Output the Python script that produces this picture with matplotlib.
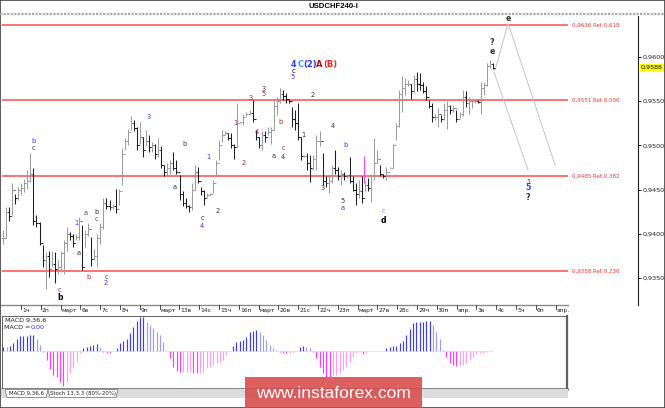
import numpy as np
import matplotlib
matplotlib.use("Agg")
import matplotlib.pyplot as plt
from matplotlib.patches import Rectangle, Polygon
from matplotlib.transforms import blended_transform_factory

# H4 bars, values in pips above 0.9300
BASE = 0.9300
high_pips = [104, 130, 130, 157, 145, 153, 157, 162, 172, 191,
             174, 121, 113, 87, 79, 81, 81, 79, 70, 81,
             93, 108, 102, 100, 100, 119, 110, 104, 112, 96,
             83, 100, 112, 140, 140, 138, 134, 151, 151, 197,
             208, 219, 233, 229, 221, 227, 210, 217, 212, 204,
             202, 208, 199, 178, 180, 184, 193, 184, 167, 148,
             140, 133, 157, 178, 176, 153, 150, 146, 146, 161,
             184, 206, 217, 216, 214, 214, 202, 248, 227, 236,
             238, 240, 251, 217, 210, 216, 216, 221, 221, 251,
             255, 265, 263, 259, 253, 244, 240, 248, 210, 189,
             191, 189, 189, 212, 216, 191, 165, 165, 178, 195,
             176, 172, 170, 168, 187, 165, 157, 161, 165, 159,
             163, 168, 208, 195, 178, 168, 176, 176, 202, 225,
             263, 278, 276, 274, 270, 280, 283, 282, 272, 267,
             251, 248, 236, 242, 234, 248, 250, 246, 246, 240,
             238, 263, 261, 255, 253, 253, 251, 272, 272, 293,
             297, 293]
low_pips = [89, 95, 115, 121, 134, 138, 144, 147, 151, 159,
            110, 108, 87, 63, 38, 51, 63, 44, 55, 57,
            55, 81, 93, 85, 93, 93, 59, 85, 98, 64,
            70, 63, 89, 106, 128, 127, 128, 123, 133, 155,
            195, 200, 217, 216, 195, 202, 187, 199, 193, 193,
            185, 187, 174, 165, 167, 168, 172, 168, 138, 131,
            129, 125, 127, 150, 157, 144, 133, 142, 144, 146,
            165, 184, 204, 212, 206, 197, 185, 198, 225, 223,
            233, 234, 227, 206, 197, 195, 204, 212, 202, 217,
            234, 248, 251, 248, 248, 221, 217, 206, 183, 187,
            172, 159, 172, 172, 199, 155, 153, 146, 157, 168,
            161, 155, 161, 163, 157, 148, 133, 140, 135, 148,
            148, 136, 161, 180, 165, 163, 161, 174, 174, 206,
            221, 238, 257, 267, 253, 259, 261, 263, 259, 251,
            242, 227, 229, 221, 227, 229, 219, 236, 238, 227,
            231, 233, 244, 236, 242, 248, 248, 236, 257, 267,
            287, 286]
close_pips = [95, 125, 120, 150, 140, 150, 152, 158, 160, 168,
              115, 112, 90, 70, 75, 60, 66, 60, 62, 78,
              90, 100, 97, 90, 96, 115, 62, 100, 105, 72,
              75, 95, 108, 135, 132, 130, 131, 128, 148, 190,
              205, 215, 225, 220, 200, 210, 195, 205, 198, 200,
              190, 195, 178, 170, 175, 180, 175, 170, 145, 135,
              132, 130, 150, 170, 160, 148, 140, 144, 145, 158,
              180, 200, 212, 214, 208, 200, 198, 225, 226, 232,
              235, 237, 230, 210, 200, 212, 210, 215, 218, 245,
              250, 258, 256, 252, 250, 230, 225, 210, 188, 188,
              180, 175, 185, 205, 205, 160, 158, 160, 175, 172,
              165, 168, 165, 166, 160, 150, 145, 148, 140, 155,
              152, 165, 180, 185, 168, 165, 170, 175, 200, 222,
              258, 265, 270, 270, 262, 275, 270, 268, 262, 255,
              245, 232, 232, 235, 230, 240, 245, 240, 242, 230,
              235, 255, 248, 250, 250, 250, 249, 265, 268, 290,
              292, 288]

macd_hist = [13, 12, 16, 25, 35, 45, 45, 45, 48, 48,
             36, 18, -4, -27, -55, -72, -79, -92, -105, -92,
             -67, -47, -32, -7, 8, 13, 15, 18, 20, 13,
             -2, -5, -7, 1, 8, 23, 31, 35, 53, 73,
             91, 101, 101, 88, 78, 68, 58, 48, 28, 1,
             -22, -47, -59, -62, -62, -62, -62, -65, -67, -67,
             -62, -52, -47, -42, -37, -32, -27, -12, 1, 15,
             28, 31, 33, 43, 58, 61, 63, 58, 48, 33,
             18, 8, 3, -2, -5, -7, -5, -2, 1, 13,
             15, 13, 8, -2, -22, -47, -67, -77, -79, -72,
             -72, -67, -57, -47, -32, -17, -5, -2, -9, -7,
             1, 1, 1, 1, 1, 8, 13, 15, 15, 23,
             31, 48, 65, 85, 88, 88, 88, 91, 91, 78,
             58, 35, 3, -19, -35, -42, -45, -45, -42, -35,
             -25, -17, -10, -7, -5, -3, -1, 1]

day_labels = ["1ч", "2п", "март", "6в", "7с", "8ч", "9п", "март", "13в", "14с",
              "15ч", "16п", "март", "20в", "21с", "22ч", "23п", "март", "27в", "28с",
              "29ч", "30п", "апр.", "3в", "4с", "5ч", "6п", "апр."]

fib_levels = [0.9636, 0.9551, 0.9465, 0.9358]
fib_names = ["0,9636 Ret 0,618", "0,9551 Ret 0,500", "0,9465 Ret 0,382", "0,9358 Ret 0,236"]
price_ticks = [0.9350, 0.9400, 0.9450, 0.9500, 0.9550, 0.9600]
last_price = 0.9588

# wave labels: (day, price, text, colour, bold)
BLUE, DARK, MAROON = "#3434ff", "#333333", "#a32a2a"
wave_labels = [
    (0.61, 0.9505, "b", BLUE, False), (0.61, 0.9497, "c", DARK, False),
    (2.78, 0.9412, "1", BLUE, False), (2.93, 0.9378, "a", DARK, False),
    (1.92, 0.9336, "c", BLUE, False), (1.97, 0.9328, "b", "#000000", True),
    (3.28, 0.9424, "a", MAROON, False), (3.43, 0.9351, "b", MAROON, False),
    (3.79, 0.9425, "b", DARK, False), (3.79, 0.9417, "c", MAROON, False),
    (4.29, 0.9351, "c", DARK, False), (4.29, 0.9344, "2", BLUE, False),
    (6.46, 0.9532, "3", BLUE, False), (8.28, 0.9502, "b", DARK, False),
    (7.78, 0.9453, "a", DARK, False), (9.44, 0.9487, "1", BLUE, False),
    (9.14, 0.9418, "c", DARK, False), (9.14, 0.9409, "4", BLUE, False),
    (9.95, 0.9426, "2", DARK, False), (10.81, 0.9525, "1", MAROON, False),
    (11.26, 0.9480, "2", MAROON, False), (11.62, 0.9554, "3", MAROON, False),
    (11.92, 0.9515, "4", MAROON, False), (12.27, 0.9564, "3", DARK, False),
    (12.27, 0.9558, "5", MAROON, False), (12.78, 0.9488, "a", DARK, False),
    (13.13, 0.9526, "b", MAROON, False), (13.23, 0.9497, "c", MAROON, False),
    (13.23, 0.9487, "4", DARK, False), (13.74, 0.9592, "4", BLUE, True),
    (13.74, 0.9584, "c", "#000000", False), (13.74, 0.9577, "5", BLUE, False),
    (14.75, 0.9557, "2", DARK, False), (14.24, 0.9512, "1", DARK, False),
    (15.76, 0.9522, "4", DARK, False), (15.25, 0.9452, "3", DARK, False),
    (16.41, 0.9500, "b", BLUE, False), (16.26, 0.9437, "5", DARK, False),
    (16.26, 0.9429, "a", BLUE, False), (18.28, 0.9426, "c", "#8080ff", False),
    (18.28, 0.9415, "d", "#000000", True), (25.61, 0.9459, "1", DARK, False),
    (25.61, 0.9452, "5", BLUE, True), (25.61, 0.9441, "?", DARK, True),
    (24.60, 0.9643, "e", DARK, True), (23.79, 0.9616, "?", DARK, True),
    (23.79, 0.9606, "e", DARK, True),
]
proj_a_x = [23.94, 24.60, 26.97]
proj_a_y = [0.9585, 0.9638, 0.9478]
proj_b_x = [23.89, 25.61]
proj_b_y = [0.9583, 0.9472]

W, H = 665, 408
def fx(px):
    return px / W
def fy(py):
    return 1 - py / H
def px_day(px):
    return (px - 21) / 19.8
def py_price(py):
    return BASE + (300 - (py - 57) * 1.131) / 10000

fig = plt.figure(figsize=(6.65, 4.08), dpi=100)
fig.patch.set_facecolor("white")

# ---- price panel
ax = fig.add_axes([fx(2), fy(305), fx(638) - fx(2), fy(16) - fy(305)])
ax.set_xlim(px_day(2), px_day(638))
ax.set_ylim(py_price(305), py_price(16))
for s in ["top", "left", "bottom"]:
    ax.spines[s].set_visible(False)
ax.spines["right"].set_color("#202020")
ax.spines["right"].set_linewidth(0.8)
ax.yaxis.tick_right()
ax.set_yticks(price_ticks)
ax.set_yticklabels([f"{p:.4f}".replace(".", ",") for p in price_ticks])
ax.tick_params(axis="y", length=2, width=0.7, labelsize=4.6, pad=1, colors="#202020")
ax.set_xticks([])

highs = BASE + np.array(high_pips) / 10000
lows = BASE + np.array(low_pips) / 10000
closes = BASE + np.array(close_pips) / 10000
opens = np.concatenate([[closes[0]], closes[:-1]])
n = len(highs)
xb = np.linspace(px_day(3), px_day(493), n)
cols = np.where(closes >= opens, "#9c9c9c", "#1e1e1e")
tw = 0.09
ax.vlines(xb, lows, highs, colors=cols, lw=0.75, zorder=3)
ax.hlines(opens, xb - tw, xb, colors=cols, lw=0.75, zorder=3)
ax.hlines(closes, xb, xb + tw, colors=cols, lw=0.75, zorder=3)

# fibo levels
for lev, name in zip(fib_levels, fib_names):
    ax.hlines(lev, px_day(2), px_day(568), colors="#ff4a4a", lw=1.1, zorder=2)
    ax.text(px_day(572), lev, name, color="#ff3030", fontsize=4, va="center", ha="left")

# magenta marker and projection lines
ax.vlines(17.32, 0.9457, 0.9488, colors="#ff40ff", lw=0.8, zorder=4)
ax.plot(proj_a_x, proj_a_y, color="#c4c4c4", lw=0.7, zorder=2)
ax.plot(proj_b_x, proj_b_y, color="#c4c4c4", lw=0.7, zorder=2)

for dx, pr, t, c, b in wave_labels:
    ax.text(dx, pr, t, color=c, fontsize=5.6 if b else 4.8,
            fontweight="bold" if b else "normal", ha="center", va="center", zorder=5)
# C(2)A(B)
parts = [("C", "#2ea0ff", 297.5), ("(2)", "#2a2aff", 303.5), ("A", "#a01818", 316), ("(B)", "#ff2020", 323)]
for t, c, xp in parts:
    ax.text(px_day(xp), 0.9592, t, color=c, fontsize=6, fontweight="bold",
            ha="left", va="center", zorder=5)

# current price box
ax.text(1.0045, last_price, "0,9588", transform=blended_transform_factory(ax.transAxes, ax.transData),
        fontsize=4.6, ha="left", va="center", color="#000000",
        bbox=dict(boxstyle="square,pad=0.2", fc="#ffff00", ec="none"), clip_on=False)

# x axis
tr = blended_transform_factory(ax.transData, ax.transAxes)
ax.plot([px_day(0), px_day(568)], [0, 0], transform=tr, color="#8a8a8a", lw=1.0, clip_on=False)
yt = -4 / 289
for k, lab in enumerate(day_labels):
    ax.plot([k, k], [0, yt], transform=tr, color="#303030", lw=0.6, clip_on=False)
    ax.text(k + 0.06, -5.8 / 289, lab, transform=tr, fontsize=4.3, color="#202020",
            ha="left", va="center", clip_on=False)

# ---- MACD panel
am = fig.add_axes([fx(2), fy(389), fx(567) - fx(2), fy(316) - fy(389)])
am.set_xlim(px_day(2), px_day(567))
am.set_ylim(-114, 105)
am.set_xticks([])
am.set_yticks([])
for s in am.spines.values():
    s.set_color("#606060")
    s.set_linewidth(0.7)
am.spines["right"].set_linewidth(1.6)
am.spines["bottom"].set_linewidth(1.8)
mh = np.array(macd_hist)
xm = np.linspace(px_day(3.3), px_day(493), len(mh))
prev = np.concatenate([[mh[0]], mh[:-1]])
mcol = []
for v, p in zip(mh, prev):
    if v >= 0:
        mcol.append("#3c3cf2" if v >= p else "#9c9cf0")
    else:
        mcol.append("#ff3cff" if v < p else "#ff9cff")
am.vlines(xm, 0, mh, colors=mcol, lw=0.85)
am.axhline(0, color="#d0d0ff", lw=0.4, xmax=(px_day(493) - px_day(2)) / (px_day(567) - px_day(2)))
am.text(px_day(5), 93, "MACD 9,36,6", fontsize=4.6, color="#202020", ha="left", va="center")
am.text(px_day(4), 70, "MACD =", fontsize=4.6, color="#202020", ha="left", va="center")
am.text(px_day(30.5), 70, "0,00", fontsize=4.6, color="#3434ff", ha="left", va="center")

# ---- header, tabs, watermark, frame
fig.add_artist(plt.Line2D([0, 1], [fy(14), fy(14)], color="#a8a8a8", lw=1.6, ls=(0, (1, 0.6))))
fig.text(fx(333), fy(7), "USDCHF240-I", fontsize=5.6, fontweight="bold", family="Liberation Sans",
         ha="center", va="center", color="#000000")
fig.add_artist(Rectangle((fx(0), fy(398)), fx(568), fy(389) - fy(398), fc="#dcdcdc", ec="none"))
for x0, x1, lab in [(5, 48, "MACD 9,36,6"), (48, 118, "Stoch 13,3,3 (80%-20%)")]:
    poly = Polygon([(fx(x0), fy(389.5)), (fx(x0 + 2), fy(397.5)), (fx(x1 - 2), fy(397.5)), (fx(x1), fy(389.5))],
                   closed=True, fc="white", ec="#707070", lw=0.5)
    fig.add_artist(poly)
    fig.text(fx((x0 + x1) / 2), fy(393.5), lab, fontsize=3.9, ha="center", va="center", color="#202020")
fig.add_artist(Rectangle((fx(245), fy(408)), fx(422) - fx(245), fy(377) - fy(408),
                         fc="#d94a4a", ec="none", alpha=0.88, zorder=10))
fig.text(fx(333), fy(393), "www.instaforex.com", fontsize=12.5, family="Liberation Sans",
         color="white", ha="center", va="center", zorder=11)
fig.add_artist(Rectangle((0, 0), 1, 1, fc="none", ec="#404040", lw=1.2, transform=fig.transFigure))

fig.savefig("out.png", dpi=100)
